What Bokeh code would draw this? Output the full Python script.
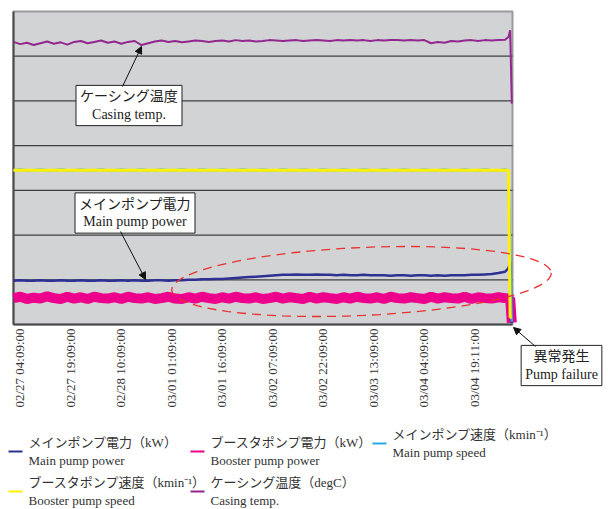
import math
from bokeh.plotting import figure
from bokeh.models import (Range1d, FixedTicker, Label, Arrow, NormalHead, PolyAnnotation,
                          BoxAnnotation, LinearAxis)
from bokeh.embed import file_html
from bokeh.resources import INLINE

# ---------------- data (elapsed hours from 02/27 02:22) ----------------
hours = [2 * i for i in range(74)] + [147, 147.5, 148]

casing_temp = [
    63.2, 62.7, 63.0, 62.5, 62.9, 63.3, 62.8, 63.1, 62.6, 63.2,
    63.4, 62.9, 63.2, 63.5, 63.0, 63.3, 62.8, 63.2, 63.4, 62.5,
    62.9, 63.3, 63.5, 63.2, 63.4, 63.1, 63.3, 63.5, 63.4, 63.2,
    63.4, 63.5, 63.3, 63.6, 63.4, 63.5, 63.3, 63.4, 63.6, 63.5,
    63.4, 63.5, 63.6, 63.4, 63.5, 63.6, 63.5, 63.4, 63.6, 63.5,
    63.6, 63.5, 63.6, 63.4, 63.6, 63.5, 63.6, 63.6, 63.5, 63.6,
    63.5, 63.6, 62.9, 63.2, 63.0, 63.4, 63.3, 63.5, 63.6, 63.4,
    63.6, 63.5, 63.6, 63.7,
    64.3, 65.8, 49.4]

main_power = [
    9.8, 9.9, 9.8, 9.8, 9.9, 9.8, 9.8, 9.9, 9.8, 9.8,
    9.9, 9.8, 9.8, 9.9, 9.8, 9.8, 9.9, 9.8, 9.9, 9.8,
    9.8, 9.9, 9.9, 9.8, 9.9, 9.9, 10.0, 10.0, 10.1, 10.1,
    10.2, 10.2, 10.3, 10.4, 10.5, 10.6, 10.7, 10.8, 10.9, 11.0,
    11.1, 11.1, 11.2, 11.1, 11.1, 11.2, 11.1, 11.1, 11.0, 11.1,
    11.0, 11.0, 11.1, 11.0, 11.0, 11.0, 10.9, 11.0, 11.0, 10.9,
    11.0, 11.0, 10.9, 11.0, 10.9, 11.0, 11.0, 11.0, 11.1, 11.1,
    11.2, 11.3, 11.5, 11.8,
    12.6, 13.8, 0.3]

booster_power = [
    5.9, 6.2, 5.7, 6.0, 5.8, 6.3, 5.9, 5.7, 6.2, 5.8,
    6.1, 5.7, 6.2, 5.9, 5.8, 6.1, 5.7, 6.2, 5.9, 5.8,
    6.1, 5.7, 5.9, 6.2, 5.8, 5.7, 6.1, 5.8, 6.2, 5.9,
    5.7, 6.1, 5.8, 6.2, 5.9, 5.8, 6.1, 5.7, 5.9, 6.2,
    5.8, 6.1, 5.9, 5.7, 6.2, 5.8, 6.1, 5.9, 5.7, 6.1,
    5.8, 6.2, 5.9, 5.8, 6.1, 5.7, 6.2, 5.9, 5.8, 6.1,
    5.9, 5.7, 6.2, 5.8, 6.1, 5.9, 5.8, 6.2, 5.7, 6.1,
    5.9, 5.8, 6.1, 5.9,
    5.8, 5.9, 0.4]

main_speed = [
    34.5, 34.6, 34.5, 34.5, 34.6, 34.5, 34.5, 34.6, 34.5, 34.5,
    34.6, 34.5, 34.5, 34.6, 34.5, 34.5, 34.6, 34.5, 34.5, 34.6,
    34.5, 34.5, 34.6, 34.5, 34.5, 34.6, 34.5, 34.5, 34.6, 34.5,
    34.5, 34.6, 34.5, 34.5, 34.6, 34.5, 34.5, 34.6, 34.5, 34.5,
    34.6, 34.5, 34.5, 34.6, 34.5, 34.5, 34.6, 34.5, 34.5, 34.6,
    34.5, 34.5, 34.6, 34.5, 34.5, 34.6, 34.5, 34.5, 34.6, 34.5,
    34.5, 34.6, 34.5, 34.5, 34.6, 34.5, 34.5, 34.6, 34.5, 34.5,
    34.6, 34.5, 34.5, 34.6,
    34.5, 15.8, 0.6]

booster_speed = [
    34.5, 34.5, 34.5, 34.5, 34.5, 34.5, 34.5, 34.5, 34.5, 34.5,
    34.5, 34.5, 34.5, 34.5, 34.5, 34.5, 34.5, 34.5, 34.5, 34.5,
    34.5, 34.5, 34.5, 34.5, 34.5, 34.5, 34.5, 34.5, 34.5, 34.5,
    34.5, 34.5, 34.5, 34.5, 34.5, 34.5, 34.5, 34.5, 34.5, 34.5,
    34.5, 34.5, 34.5, 34.5, 34.5, 34.5, 34.5, 34.5, 34.5, 34.5,
    34.5, 34.5, 34.5, 34.5, 34.5, 34.5, 34.5, 34.5, 34.5, 34.5,
    34.5, 34.5, 34.5, 34.5, 34.5, 34.5, 34.5, 34.5, 34.5, 34.5,
    34.5, 34.5, 34.5, 34.5,
    34.5, 1.6, 1.6]

tick_hours = [1.8, 16.8, 31.8, 46.8, 61.8, 76.8, 91.8, 106.8, 121.8, 136.8]
tick_labels = ["02/27 04:09:00", "02/27 19:09:00", "02/28 10:09:00", "03/01 01:09:00",
               "03/01 16:09:00", "03/02 07:09:00", "03/02 22:09:00", "03/03 13:09:00",
               "03/04 04:09:00", "03/04 19:11:00"]
grid_levels = [10, 20, 30, 40, 50, 60]

series_names = ["メインポンプ電力（kW）\nMain pump power",
                "ブースタポンプ電力（kW）\nBooster pump power",
                "メインポンプ速度（kmin⁻¹）\nMain pump speed",
                "ブースタポンプ速度（kmin⁻¹）\nBooster pump speed",
                "ケーシング温度（degC）\nCasing temp."]
series_colors = ["#2e3192", "#ec008c", "#29abe2", "#fff200", "#92278f"]

SERIF = "Liberation Serif, Noto Sans CJK JP"
X_END = 148.2          # right end of the plotting area (hours)
Y_END = 70             # top of the plotting area
W, H = 608, 509
# plotting area in page pixels: left 13, right 512, top 11, bottom 324
PX_L, PX_R, PX_T, PX_B = 13, 512, 11, 324
XS = X_END / (PX_R - PX_L)
YS = Y_END / (PX_B - PX_T)

p = figure(width=W, height=H,
           x_range=Range1d(-PX_L * XS, (W - PX_L) * XS),
           y_range=Range1d((PX_B - H) * YS, PX_B * YS),
           output_backend="svg", toolbar_location=None,
           x_axis_location=None, y_axis_location=None,
           min_border=0, background_fill_color="white", border_fill_color="white",
           outline_line_color=None)
p.grid.visible = False

# layout helpers: page pixel -> data coordinates (annotation placement only)
def hx(px):
    return (px - PX_L) * XS

def vy(py):
    return (PX_B - py) * YS

# plotting area background + frame
p.add_layout(BoxAnnotation(left=0, right=X_END, bottom=0, top=Y_END,
                           fill_color="#d2d3d5", fill_alpha=1,
                           line_color="#9a9a9a", line_width=2, line_alpha=1,
                           level="underlay"))
p.segment(x0=[0] * len(grid_levels), x1=[X_END] * len(grid_levels),
          y0=grid_levels, y1=grid_levels, line_color="#404040", line_width=1.2)
p.segment(x0=[0], x1=[0], y0=[0], y1=[Y_END], line_color="#4a4a4a", line_width=2)

xaxis = LinearAxis(fixed_location=0, bounds=(0, X_END),
                   ticker=FixedTicker(ticks=tick_hours))
xaxis.major_label_overrides = {t: s for t, s in zip(tick_hours, tick_labels)}
xaxis.major_label_orientation = math.pi / 2
xaxis.major_tick_in = 0
xaxis.major_tick_out = 0
xaxis.minor_tick_in = 0
xaxis.minor_tick_out = 0
xaxis.major_label_standoff = 4
xaxis.axis_line_color = "#4a4a4a"
xaxis.axis_line_width = 2
xaxis.major_label_text_font = SERIF
xaxis.major_label_text_font_size = "13px"
xaxis.major_label_text_color = "#333333"
p.add_layout(xaxis, "below")

# series
p.line(hours, booster_power, line_color=series_colors[1], line_width=10)
p.line(hours, main_power, line_color=series_colors[0], line_width=2.5)
p.line(hours, main_speed, line_color=series_colors[2], line_width=2.5)
p.line(hours, booster_speed, line_color=series_colors[3], line_width=3)
p.line(hours, casing_temp, line_color=series_colors[4], line_width=2)

# dashed ellipse highlighting the rising trend
cx, cy, a, b, phi = 361, 281, 190, 34, -0.045
exs, eys = [], []
for k in range(73):
    t = 2 * math.pi * k / 72
    X = cx + a * math.cos(t) * math.cos(phi) - b * math.sin(t) * math.sin(phi)
    Y = cy + a * math.cos(t) * math.sin(phi) + b * math.sin(t) * math.cos(phi)
    exs.append(hx(X))
    eys.append(vy(Y))
p.add_layout(PolyAnnotation(xs=exs, ys=eys, fill_alpha=0, line_color="#e8322e",
                            line_alpha=1, line_width=1.3, line_dash="9 6"))

# call-out boxes
def box_label(px, py, txt, pad):
    p.add_layout(Label(x=hx(px), y=vy(py), text=txt, text_align="center",
                       text_baseline="middle", text_font=SERIF, text_font_size="14px",
                       text_color="#222222", text_line_height=1.15,
                       background_fill_color="white", border_line_color="#222222",
                       border_line_width=1, padding=pad))

def arrow(x0, y0, x1, y1):
    p.add_layout(Arrow(x_start=hx(x0), y_start=vy(y0), x_end=hx(x1), y_end=vy(y1),
                       line_color="#111111", line_width=1,
                       end=NormalHead(size=7, fill_color="#111111", line_color="#111111")))

box_label(128.5, 105, "ケーシング温度\nCasing temp.", 4)
arrow(122, 86, 141, 46)
box_label(134.5, 212.5, "メインポンプ電力\nMain pump power", 4)
arrow(120, 231, 145, 279)
box_label(561, 365, "異常発生\nPump failure", 4)
arrow(535, 346, 513, 327)

# legend (manual, two-line labels)
legend_pos = [(8, 451), (190, 451), (372, 443), (8, 491), (190, 491)]
for (lx, ly), name, col in zip(legend_pos, series_names, series_colors):
    p.add_layout(Arrow(x_start=hx(lx), y_start=vy(ly), x_end=hx(lx + 14), y_end=vy(ly),
                       start=None, end=None, line_color=col, line_width=2))
    p.add_layout(Label(x=hx(lx + 20), y=vy(ly), text=name, text_align="left",
                       text_baseline="middle", text_font=SERIF, text_font_size="13px",
                       text_color="#333333", text_line_height=1.22))

open("out.html", "w").write(file_html(p, INLINE))
